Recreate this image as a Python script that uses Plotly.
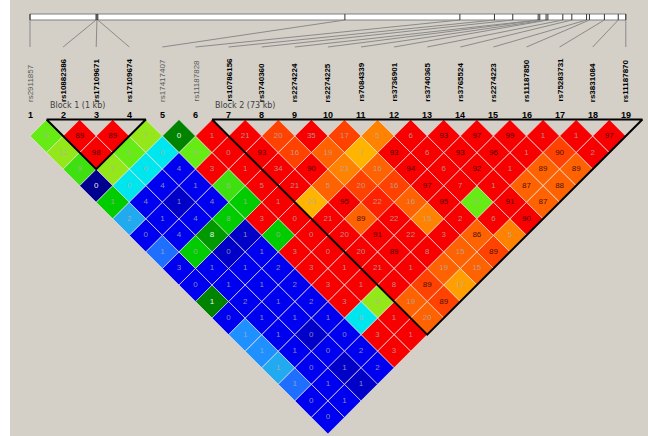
import plotly.graph_objects as go

# ---------------- data ----------------
snp_names = ["rs2911857", "rs10882386", "rs17109671", "rs17109674", "rs17417407",
             "rs11187828", "rs10786156", "rs3740360", "rs2274224", "rs2274225",
             "rs7084339", "rs3736901", "rs3740365", "rs3765524", "rs2274223",
             "rs11187850", "rs75283731", "rs3831084", "rs11187870"]
snp_kb = [0.0, 36.7, 37.2, 37.7, 175.0, 238.9, 258.1, 268.3, 282.4, 283.3,
          286.8, 287.8, 296.1, 301.1, 309.3, 310.9, 319.2, 326.9, 331.1]
block_labels = ["Block 1 (1 kb)", "Block 2 (73 kb)"]
block_first = [2, 7]
block_last = [4, 19]

# r2 (x100) values by SNP distance d = j - i (row d lists pairs (1,1+d), (2,2+d), ...)
r2_d1 = [9, 89, 89, 7, 0, 1, 21, 20, 35, 17, 5, 6, 93, 97, 99, 1, 1, 97]
r2_d2 = [12, 98, 6, 0, 6, 0, 93, 16, 19, 7, 93, 6, 93, 96, 1, 90, 2]
r2_d3 = [9, 7, 0, 4, 3, 1, 34, 90, 23, 16, 94, 6, 92, 1, 89, 89]
r2_d4 = [0, 0, 4, 1, 6, 5, 21, 5, 20, 16, 97, 7, 1, 87, 88]
r2_d5 = [1, 4, 1, 4, 1, 1, 23, 95, 22, 16, 95, 0, 91, 87]
r2_d6 = [2, 1, 4, 8, 3, 0, 21, 89, 22, 15, 2, 6, 90]
r2_d7 = [0, 4, 8, 1, 0, 0, 20, 91, 22, 3, 86, 5]
r2_d8 = [1, 0, 0, 1, 3, 0, 20, 89, 8, 15, 89]
r2_d9 = [3, 1, 1, 2, 3, 1, 21, 1, 19, 15]
r2_d10 = [0, 1, 1, 2, 3, 1, 8, 89, 17]
r2_d11 = [1, 2, 1, 2, 3, 0, 19, 89]
r2_d12 = [0, 1, 1, 1, 8, 1, 20]
r2_d13 = [1, 1, 0, 0, 3, 1]
r2_d14 = [1, 1, 0, 2, 3]
r2_d15 = [1, 0, 1, 2]
r2_d16 = [1, 1, 1]
r2_d17 = [0, 1]
r2_d18 = [0]

# colour class of each cell, same layout
col_d1 = ["LG", "R", "R", "YG", "DG", "R", "R", "O1", "R", "O1", "O3", "R", "R", "R", "R", "R", "R", "R"]
col_d2 = ["YG", "R", "LG", "C", "LG", "R", "R", "O1", "O2", "Y", "R", "R", "R", "R", "R", "O1", "R"]
col_d3 = ["G", "YG", "C", "B", "R", "R", "R", "R", "O3", "O2", "R", "R", "R", "R", "O2", "O2"]
col_d4 = ["NV", "C", "B", "B", "G", "R", "R", "O2", "O1", "O1", "R", "R", "R", "O2", "O2"]
col_d5 = ["G2", "B", "DB", "B", "G2", "R", "Y", "R", "R2", "O2", "R", "LG", "R", "O2"]
col_d6 = ["SB", "B", "B", "G2", "R", "R", "R", "O2", "R", "O3", "R", "R", "R"]
col_d7 = ["B", "B", "G3", "DB", "G2", "R", "R", "R", "R", "R", "O2", "O3"]
col_d8 = ["MB", "G2", "DB", "B", "R", "R", "R", "R", "R", "O2", "O1"]
col_d9 = ["B", "B", "B", "B", "R", "R", "R", "R", "O2", "O2"]
col_d10 = ["B", "B", "B", "B", "R", "R", "R", "O1", "O4"]
col_d11 = ["DG", "B", "B", "B", "R", "YG", "O2", "O1"]
col_d12 = ["B", "B", "B", "B", "C", "R", "O2"]
col_d13 = ["SB2", "B", "DB", "B", "R", "R"]
col_d14 = ["SB2", "B", "B", "B", "R"]
col_d15 = ["SB", "B", "DB", "B"]
col_d16 = ["MB", "B", "DB"]
col_d17 = ["B", "B"]
col_d18 = ["B"]

r2_rows = [r2_d1, r2_d2, r2_d3, r2_d4, r2_d5, r2_d6, r2_d7, r2_d8, r2_d9,
           r2_d10, r2_d11, r2_d12, r2_d13, r2_d14, r2_d15, r2_d16, r2_d17, r2_d18]
col_rows = [col_d1, col_d2, col_d3, col_d4, col_d5, col_d6, col_d7, col_d8, col_d9,
            col_d10, col_d11, col_d12, col_d13, col_d14, col_d15, col_d16, col_d17, col_d18]

palette = {
    "R": "#F80000", "R2": "#FF2200", "O1": "#FF4200", "O2": "#FF6200",
    "O3": "#FF8200", "O4": "#FFA000", "Y": "#FFB400",
    "YG": "#94E81A", "LG": "#66EC14", "G": "#3EE010", "G2": "#00CC00",
    "G3": "#009A00", "DG": "#008400", "C": "#00E6EE", "SB": "#22AAF0",
    "SB2": "#1E90FF", "MB": "#1E6EFF", "B": "#0000F0", "DB": "#0000C8",
    "NV": "#000090",
}

# ---------------- geometry (pixel calibration of the axes) ----------------
W, H = 648, 436
PX0, PXS, PY0 = 30.0, 33.1, 119.5   # x of SNP 1, SNP spacing, top of triangle


def kx(px):
    return 1 + (px - PX0) / PXS


def uy(py):
    return (py - PY0) / PXS


n = len(snp_names)
span_kb = snp_kb[-1] - snp_kb[0]


def phys_k(kb):
    return 1 + (n - 1) * (kb - snp_kb[0]) / span_kb


BG = "#D4D0C8"
fig = go.Figure()

# ---------------- LD diamonds ----------------
polys = {}
texts = {}
for d, (vals, cols) in enumerate(zip(r2_rows, col_rows), start=1):
    for idx, (v, c) in enumerate(zip(vals, cols)):
        i = idx + 1
        j = i + d
        cx = (i + j) / 2
        cu = d / 2
        xs, ys = polys.setdefault(c, ([], []))
        xs += [cx, cx + 0.5, cx, cx - 0.5, cx, None]
        ys += [cu - 0.5, cu, cu + 0.5, cu, cu - 0.5, None]
        if c in ("NV", "DG", "G3"):
            tc = "rgba(255,255,255,0.95)"
        elif v >= 80:
            tc = "rgba(50,8,8,0.9)"
        else:
            tc = "rgba(175,175,175,0.8)"
        tx, ty, tt = texts.setdefault(tc, ([], [], []))
        tx.append(cx)
        ty.append(cu)
        tt.append(str(v))

for c, (xs, ys) in polys.items():
    fig.add_trace(go.Scatter(x=xs, y=ys, mode="lines", fill="toself",
                             fillcolor=palette[c],
                             line=dict(color="rgba(240,232,232,0.6)", width=1),
                             hoverinfo="skip", showlegend=False))

for tc, (tx, ty, tt) in texts.items():
    fig.add_trace(go.Scatter(x=tx, y=ty, text=tt, mode="text",
                             textfont=dict(family="Liberation Sans, Arial", size=8, color=tc),
                             hoverinfo="skip", showlegend=False))

# ---------------- block outlines ----------------
for a, b in zip(block_first, block_last):
    fig.add_trace(go.Scatter(
        x=[a - 0.5, b + 0.5, (a + b) / 2, a - 0.5],
        y=[0, 0, (b - a + 1) / 2, 0],
        mode="lines", line=dict(color="black", width=2),
        hoverinfo="skip", showlegend=False))

# ---------------- physical map bar ----------------
shapes = [
    dict(type="rect", xref="paper", yref="paper", x0=0, x1=10 / W, y0=0, y1=1,
         fillcolor="white", line=dict(width=0), layer="above"),
    dict(type="rect", x0=phys_k(snp_kb[0]), x1=phys_k(snp_kb[-1]), y0=uy(14), y1=uy(20),
         fillcolor="white", line=dict(color="#808080", width=1), layer="below"),
]
for kb in snp_kb:
    shapes.append(dict(type="line", x0=phys_k(kb), x1=phys_k(kb), y0=uy(14), y1=uy(20),
                       line=dict(color="#303030", width=1)))

cx_l, cy_l = [], []
for k, kb in enumerate(snp_kb, start=1):
    cx_l += [phys_k(kb), k, None]
    cy_l += [uy(20), uy(47), None]
fig.add_trace(go.Scatter(x=cx_l, y=cy_l, mode="lines",
                         line=dict(color="#8a8a8a", width=1),
                         hoverinfo="skip", showlegend=False))

# ---------------- labels ----------------
in_block = set()
for a, b in zip(block_first, block_last):
    in_block.update(range(a, b + 1))

annotations = []
for k, name in enumerate(snp_names, start=1):
    bold = k in in_block
    annotations.append(dict(
        x=k, y=uy(104), text=f"<b>{name}</b>" if bold else name,
        textangle=-90, xanchor="center", yanchor="bottom", showarrow=False,
        font=dict(family="Liberation Sans, Arial", size=8,
                  color="black" if bold else "#5a5a5a")))
    annotations.append(dict(
        x=k, y=uy(114.5), text=f"<b>{k}</b>", xanchor="center", yanchor="middle",
        showarrow=False, font=dict(family="Liberation Sans, Arial", size=9, color="black")))

for lab, a in zip(block_labels, block_first):
    annotations.append(dict(
        x=a - 0.47, y=uy(105), text=lab, xanchor="left", yanchor="middle",
        showarrow=False, font=dict(family="DejaVu Sans", size=8, color="#404040")))

fig.update_layout(
    width=W, height=H, autosize=False,
    margin=dict(l=0, r=0, t=0, b=0, pad=0),
    paper_bgcolor=BG, plot_bgcolor=BG,
    xaxis=dict(range=[kx(0), kx(W)], visible=False, fixedrange=True),
    yaxis=dict(range=[uy(H), uy(0)], visible=False, fixedrange=True),
    shapes=shapes, annotations=annotations, showlegend=False,
)

fig.write_html("out.html", config={"displayModeBar": False},
               post_script="document.body.style.margin='0px';document.body.style.overflow='hidden';")
